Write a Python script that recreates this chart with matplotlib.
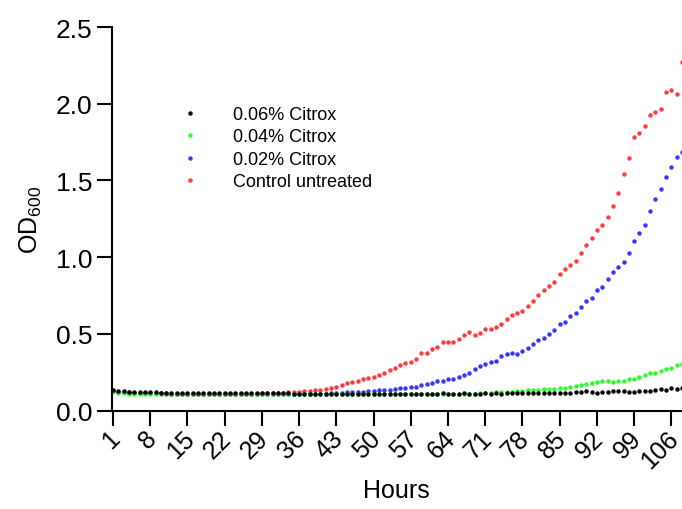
import matplotlib
matplotlib.use('Agg')
import matplotlib.pyplot as plt
import matplotlib.transforms as mtransforms
import numpy as np

plt.rcParams['font.family'] = ['Liberation Sans', 'DejaVu Sans']

# DATA (OD600 read per hour, hours 1..108)
hours = np.arange(1, 109)
tick_hours = list(range(1, 107, 7))

od_006 = [0.135, 0.128, 0.125, 0.123, 0.121, 0.120, 0.119, 0.118, 0.118, 0.117,
          0.117, 0.116, 0.116, 0.116, 0.115, 0.115, 0.115, 0.114, 0.114, 0.114,
          0.114, 0.114, 0.113, 0.113, 0.113, 0.113, 0.113, 0.113, 0.112, 0.112,
          0.112, 0.112, 0.112, 0.112, 0.111, 0.111, 0.111, 0.111, 0.111, 0.111,
          0.111, 0.111, 0.110, 0.110, 0.110, 0.110, 0.110, 0.111, 0.110, 0.110,
          0.110, 0.111, 0.110, 0.110, 0.111, 0.110, 0.110, 0.111, 0.111, 0.110,
          0.111, 0.111, 0.112, 0.111, 0.110, 0.111, 0.112, 0.111, 0.110, 0.111,
          0.112, 0.111, 0.112, 0.111, 0.112, 0.113, 0.112, 0.113, 0.112, 0.113,
          0.114, 0.113, 0.115, 0.114, 0.116, 0.115, 0.117, 0.118, 0.122, 0.126,
          0.122, 0.113, 0.122, 0.122, 0.126, 0.126, 0.126, 0.124, 0.122, 0.126,
          0.126, 0.129, 0.131, 0.140, 0.131, 0.144, 0.142, 0.148]

od_004 = [0.125, 0.116, 0.112, 0.110, 0.108, 0.107, 0.107, 0.106, 0.106, 0.106,
          0.105, 0.105, 0.105, 0.105, 0.105, 0.105, 0.105, 0.105, 0.105, 0.105,
          0.105, 0.105, 0.105, 0.105, 0.105, 0.105, 0.105, 0.105, 0.105, 0.105,
          0.105, 0.105, 0.105, 0.105, 0.105, 0.105, 0.105, 0.105, 0.105, 0.105,
          0.105, 0.105, 0.105, 0.105, 0.105, 0.105, 0.105, 0.105, 0.105, 0.105,
          0.105, 0.105, 0.105, 0.105, 0.105, 0.105, 0.106, 0.106, 0.106, 0.106,
          0.106, 0.106, 0.107, 0.107, 0.108, 0.108, 0.109, 0.110, 0.111, 0.112,
          0.114, 0.116, 0.118, 0.120, 0.122, 0.124, 0.126, 0.128, 0.131, 0.133,
          0.135, 0.139, 0.142, 0.142, 0.144, 0.148, 0.151, 0.159, 0.164, 0.172,
          0.181, 0.185, 0.192, 0.190, 0.188, 0.190, 0.196, 0.203, 0.207, 0.218,
          0.231, 0.242, 0.246, 0.259, 0.270, 0.279, 0.294, 0.305]

od_002 = [0.130, 0.124, 0.120, 0.118, 0.116, 0.115, 0.114, 0.113, 0.113, 0.112,
          0.112, 0.111, 0.111, 0.111, 0.110, 0.110, 0.110, 0.110, 0.110, 0.110,
          0.110, 0.110, 0.110, 0.110, 0.110, 0.110, 0.110, 0.110, 0.110, 0.110,
          0.110, 0.110, 0.110, 0.110, 0.110, 0.111, 0.111, 0.111, 0.111, 0.111,
          0.111, 0.112, 0.114, 0.116, 0.118, 0.120, 0.124, 0.124, 0.127, 0.129,
          0.131, 0.133, 0.137, 0.142, 0.144, 0.148, 0.153, 0.151, 0.164, 0.172,
          0.181, 0.190, 0.194, 0.203, 0.209, 0.218, 0.231, 0.246, 0.268, 0.290,
          0.305, 0.316, 0.325, 0.356, 0.371, 0.373, 0.371, 0.388, 0.410, 0.435,
          0.459, 0.472, 0.498, 0.528, 0.563, 0.580, 0.615, 0.637, 0.676, 0.712,
          0.735, 0.787, 0.807, 0.857, 0.905, 0.938, 0.966, 1.025, 1.104, 1.158,
          1.211, 1.298, 1.379, 1.444, 1.520, 1.590, 1.656, 1.684]

od_control = [0.128, 0.122, 0.118, 0.116, 0.115, 0.114, 0.113, 0.113, 0.112, 0.112,
              0.111, 0.111, 0.111, 0.110, 0.110, 0.110, 0.110, 0.110, 0.110, 0.110,
              0.110, 0.110, 0.110, 0.110, 0.110, 0.111, 0.111, 0.111, 0.112, 0.112,
              0.113, 0.114, 0.116, 0.118, 0.120, 0.122, 0.125, 0.128, 0.131, 0.135,
              0.140, 0.145, 0.155, 0.166, 0.177, 0.188, 0.196, 0.203, 0.212, 0.220,
              0.233, 0.247, 0.262, 0.275, 0.295, 0.308, 0.314, 0.334, 0.373, 0.377,
              0.400, 0.417, 0.447, 0.447, 0.449, 0.469, 0.493, 0.515, 0.495, 0.508,
              0.530, 0.530, 0.548, 0.563, 0.596, 0.624, 0.639, 0.648, 0.683, 0.711,
              0.755, 0.787, 0.809, 0.840, 0.888, 0.923, 0.949, 0.977, 1.027, 1.080,
              1.124, 1.180, 1.209, 1.259, 1.333, 1.420, 1.542, 1.649, 1.782, 1.811,
              1.856, 1.928, 1.944, 1.966, 2.075, 2.090, 2.066, 2.275]

labels = ['0.06% Citrox', '0.04% Citrox', '0.02% Citrox', 'Control untreated']
colors = ['#000000', '#2bff2b', '#3535ff', '#ff3b3b']

# VISUALIZE
fig = plt.figure(figsize=(6.82, 5.1), dpi=100)
ax = fig.add_axes([0.1635, 0.193, 0.8365, 0.752])

series = [od_006, od_004, od_002, od_control]
handles = [None] * 4
for i in [3, 2, 1, 0]:
    h, = ax.plot(hours, series[i], linestyle='none', marker='o', markersize=3.2,
                 markeredgewidth=0, color=colors[i], label=labels[i], clip_on=False)
    handles[i] = h

ax.set_xlim(0.72, 108.0)
ax.set_ylim(0, 2.5)
ax.set_yticks([0.0, 0.5, 1.0, 1.5, 2.0, 2.5])
ax.set_yticklabels(['0.0', '0.5', '1.0', '1.5', '2.0', '2.5'])
ax.set_xticks(tick_hours)
ax.set_xticklabels([str(t) for t in tick_hours], rotation=45, ha='right',
                   va='center', rotation_mode='anchor')

for s in ['top', 'right']:
    ax.spines[s].set_visible(False)
for s in ['left', 'bottom']:
    ax.spines[s].set_linewidth(1.5)
ax.tick_params(axis='both', length=11, width=1.5, labelsize=19)
ax.tick_params(axis='x', pad=6, labelsize=18)
ax.tick_params(axis='y', pad=3)

# nudge rotated hour labels a little to the right
shift = mtransforms.ScaledTranslation(3 / 100, 0, fig.dpi_scale_trans)
for lbl in ax.get_xticklabels():
    lbl.set_transform(lbl.get_transform() + shift)

ax.set_xlabel('Hours', fontsize=18, labelpad=4)
ax.set_ylabel(r'OD$_{\mathregular{600}}$', fontsize=18, labelpad=8)

ax.legend(handles=handles, labels=labels, loc='upper left',
          bbox_to_anchor=(181 / 682, 1 - 107 / 510), bbox_transform=fig.transFigure,
          frameon=False, fontsize=13, numpoints=1, handlelength=1.0,
          handletextpad=1.9, labelspacing=0.3, borderpad=0, borderaxespad=0,
          markerscale=1.0)

fig.savefig('out.png', dpi=100)
